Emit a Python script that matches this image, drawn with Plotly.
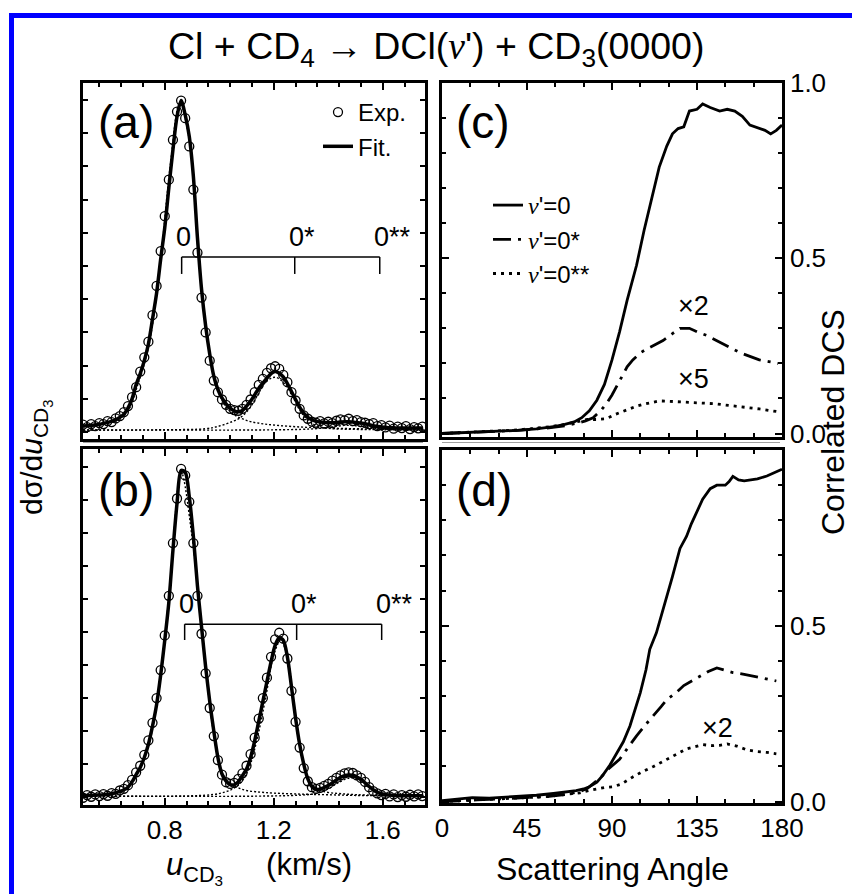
import plotly.graph_objects as go

# ---------------- data: panels (a), (b) ----------------
U = [0.500, 0.515, 0.530, 0.545, 0.560, 0.575, 0.590, 0.605, 0.620, 0.635,
     0.650, 0.665, 0.680, 0.695, 0.710, 0.725, 0.740, 0.755, 0.770, 0.785,
     0.800, 0.815, 0.830, 0.845, 0.860, 0.875, 0.890, 0.905, 0.920, 0.935,
     0.950, 0.965, 0.980, 0.995, 1.010, 1.025, 1.040, 1.055, 1.070, 1.085,
     1.100, 1.115, 1.130, 1.145, 1.160, 1.175, 1.190, 1.205, 1.220, 1.235,
     1.250, 1.265, 1.280, 1.295, 1.310, 1.325, 1.340, 1.355, 1.370, 1.385,
     1.400, 1.415, 1.430, 1.445, 1.460, 1.475, 1.490, 1.505, 1.520, 1.535,
     1.550, 1.565, 1.580, 1.595, 1.610, 1.625, 1.640, 1.655, 1.670, 1.685,
     1.700, 1.715, 1.730, 1.745]

FIT_A = [0.018, 0.019, 0.020, 0.021, 0.023, 0.026, 0.029, 0.032, 0.037, 0.044,
         0.054, 0.072, 0.100, 0.143, 0.176, 0.215, 0.265, 0.340, 0.418, 0.520,
         0.615, 0.735, 0.850, 0.950, 0.998, 0.955, 0.890, 0.770, 0.585, 0.430,
         0.320, 0.235, 0.168, 0.128, 0.103, 0.085, 0.072, 0.064, 0.061, 0.065,
         0.078, 0.093, 0.112, 0.132, 0.147, 0.162, 0.176, 0.182, 0.177, 0.166,
         0.146, 0.122, 0.098, 0.075, 0.057, 0.044, 0.037, 0.032, 0.030, 0.029,
         0.028, 0.028, 0.029, 0.030, 0.031, 0.031, 0.030, 0.029, 0.027, 0.025,
         0.022, 0.019, 0.017, 0.015, 0.014, 0.013, 0.013, 0.012, 0.012, 0.012,
         0.012, 0.012, 0.012, 0.012]

EXP_A = [0.022, 0.015, 0.024, 0.018, 0.027, 0.024, 0.033, 0.030, 0.041, 0.048,
         0.060, 0.078, 0.105, 0.135, 0.182, 0.225, 0.272, 0.352, 0.440, 0.545,
         0.650, 0.760, 0.880, 0.965, 0.998, 0.945, 0.860, 0.730, 0.540, 0.405,
         0.300, 0.215, 0.155, 0.120, 0.098, 0.082, 0.070, 0.066, 0.064, 0.070,
         0.082, 0.098, 0.120, 0.142, 0.160, 0.178, 0.192, 0.198, 0.190, 0.172,
         0.150, 0.120, 0.095, 0.070, 0.050, 0.040, 0.031, 0.028, 0.033, 0.026,
         0.031, 0.027, 0.034, 0.038, 0.035, 0.040, 0.033, 0.036, 0.030, 0.028,
         0.024, 0.027, 0.018, 0.021, 0.014, 0.019, 0.010, 0.016, 0.012, 0.018,
         0.009, 0.015, 0.011, 0.016]

FIT_B = [0.004, 0.005, 0.005, 0.006, 0.006, 0.007, 0.008, 0.010, 0.013, 0.017,
         0.022, 0.030, 0.046, 0.068, 0.090, 0.120, 0.160, 0.215, 0.280, 0.370,
         0.475, 0.590, 0.748, 0.890, 0.990, 0.985, 0.910, 0.790, 0.640, 0.516,
         0.395, 0.290, 0.200, 0.120, 0.070, 0.048, 0.038, 0.037, 0.047, 0.065,
         0.085, 0.120, 0.170, 0.230, 0.290, 0.350, 0.410, 0.460, 0.483, 0.475,
         0.425, 0.334, 0.240, 0.160, 0.100, 0.055, 0.032, 0.023, 0.024, 0.029,
         0.035, 0.043, 0.052, 0.060, 0.065, 0.067, 0.066, 0.061, 0.054, 0.043,
         0.032, 0.022, 0.014, 0.010, 0.008, 0.006, 0.005, 0.004, 0.004, 0.004,
         0.004, 0.004, 0.004, 0.004]

EXP_B = [-0.002, 0.006, 0.001, 0.008, 0.003, 0.009, 0.004, 0.012, 0.010, 0.020,
         0.025, 0.036, 0.052, 0.075, 0.095, 0.128, 0.172, 0.225, 0.300, 0.385,
         0.490, 0.610, 0.770, 0.905, 0.995, 0.975, 0.895, 0.770, 0.610, 0.495,
         0.375, 0.270, 0.185, 0.112, 0.068, 0.045, 0.040, 0.043, 0.055, 0.072,
         0.095, 0.130, 0.180, 0.238, 0.300, 0.362, 0.425, 0.478, 0.498, 0.480,
         0.420, 0.322, 0.228, 0.150, 0.088, 0.048, 0.030, 0.025, 0.028, 0.034,
         0.040, 0.050, 0.058, 0.066, 0.072, 0.075, 0.073, 0.066, 0.058, 0.046,
         0.030, 0.018, 0.011, 0.006, 0.010, 0.002, 0.008, 0.000, 0.006, 0.001,
         0.007, 0.002, 0.008, 0.003]

# fitted components (dotted)
U_A0 = [0.50, 0.60, 0.66, 0.70, 0.74, 0.78, 0.82, 0.855, 0.89, 0.93, 0.97, 1.01, 1.05, 1.10, 1.15, 1.20, 1.30, 1.40, 1.50, 1.60, 1.755]
C_A0 = [0.016, 0.028, 0.058, 0.140, 0.255, 0.480, 0.800, 0.990, 0.880, 0.470, 0.210, 0.095, 0.055, 0.035, 0.026, 0.021, 0.015, 0.012, 0.010, 0.009, 0.008]
U_A1 = [0.50, 0.80, 0.95, 1.00, 1.05, 1.08, 1.11, 1.14, 1.17, 1.205, 1.24, 1.27, 1.30, 1.33, 1.36, 1.40, 1.50, 1.60, 1.755]
C_A1 = [0.006, 0.007, 0.010, 0.018, 0.032, 0.045, 0.070, 0.110, 0.150, 0.165, 0.145, 0.105, 0.060, 0.032, 0.018, 0.011, 0.008, 0.007, 0.006]
U_A2 = [0.50, 1.30, 1.38, 1.42, 1.46, 1.50, 1.54, 1.58, 1.65, 1.755]
C_A2 = [0.006, 0.008, 0.012, 0.016, 0.020, 0.019, 0.014, 0.010, 0.008, 0.006]

U_B0 = [0.50, 0.60, 0.66, 0.70, 0.74, 0.78, 0.82, 0.86, 0.90, 0.94, 0.98, 1.01, 1.04, 1.07, 1.10, 1.15, 1.20, 1.30, 1.40, 1.50, 1.60, 1.75]
C_B0 = [0.004, 0.009, 0.028, 0.075, 0.155, 0.330, 0.650, 0.985, 0.790, 0.470, 0.190, 0.075, 0.042, 0.028, 0.020, 0.015, 0.012, 0.009, 0.007, 0.005, 0.004, 0.003]
U_B1 = [0.50, 0.90, 0.98, 1.02, 1.05, 1.08, 1.11, 1.14, 1.17, 1.20, 1.225, 1.25, 1.28, 1.31, 1.34, 1.38, 1.45, 1.55, 1.75]
C_B1 = [0.003, 0.004, 0.008, 0.015, 0.025, 0.045, 0.090, 0.180, 0.300, 0.430, 0.475, 0.425, 0.240, 0.100, 0.040, 0.018, 0.010, 0.006, 0.003]
U_B2 = [0.50, 1.30, 1.36, 1.40, 1.44, 1.48, 1.52, 1.56, 1.60, 1.66, 1.75]
C_B2 = [0.003, 0.006, 0.012, 0.025, 0.045, 0.058, 0.050, 0.028, 0.010, 0.005, 0.003]

# comb markers (v' = 0, 0*, 0**)
COMB_LABELS = ["0", "0*", "0**"]
COMB_A = [0.862, 1.277, 1.589]
COMB_B = [0.873, 1.284, 1.596]

# ---------------- data: panels (c), (d) ----------------
ANG_C0 = [0, 10, 20, 30, 40, 50, 55, 60, 65, 70, 74, 78, 82, 86, 90, 94, 98, 103, 107, 111, 115, 119, 122, 125, 128, 131, 135, 138, 142, 147, 151, 155, 159, 163, 168, 171, 174, 177, 180]
DCS_C0 = [0.0, 0.002, 0.004, 0.006, 0.009, 0.013, 0.016, 0.020, 0.026, 0.033, 0.045, 0.065, 0.095, 0.140, 0.210, 0.290, 0.380, 0.480, 0.580, 0.670, 0.760, 0.820, 0.855, 0.870, 0.875, 0.920, 0.925, 0.940, 0.930, 0.920, 0.925, 0.920, 0.905, 0.880, 0.870, 0.865, 0.855, 0.865, 0.880]
ANG_C1 = [0, 20, 40, 55, 65, 72, 76, 80, 84, 87, 90, 94, 98, 101, 105, 108, 113, 117, 122, 126, 131, 135, 140, 147, 152, 158, 163, 168, 173, 178]
DCS_C1 = [0.0, 0.004, 0.009, 0.015, 0.022, 0.030, 0.036, 0.045, 0.065, 0.085, 0.110, 0.150, 0.190, 0.210, 0.230, 0.240, 0.253, 0.265, 0.285, 0.300, 0.300, 0.290, 0.280, 0.260, 0.245, 0.230, 0.220, 0.210, 0.205, 0.200]
ANG_C2 = [0, 20, 40, 55, 64, 70, 77, 82, 87, 92, 98, 103, 108, 112, 115, 120, 125, 130, 137, 144, 151, 158, 163, 168, 173, 178]
DCS_C2 = [0.0, 0.005, 0.010, 0.018, 0.025, 0.032, 0.040, 0.040, 0.042, 0.055, 0.068, 0.078, 0.085, 0.090, 0.093, 0.092, 0.090, 0.088, 0.087, 0.085, 0.081, 0.076, 0.073, 0.070, 0.066, 0.062]

ANG_D0 = [0, 8, 16, 25, 38, 50, 59, 66, 71, 75, 78, 82, 85, 89, 92.5, 96, 99.5, 102, 105, 108, 110, 113.5, 116, 119, 122, 126, 129.5, 132, 135, 138, 142, 145.5, 150, 152, 154, 157, 160, 164, 167, 172, 176, 180]
DCS_D0 = [0.003, 0.006, 0.011, 0.010, 0.014, 0.018, 0.023, 0.027, 0.031, 0.036, 0.042, 0.055, 0.074, 0.105, 0.136, 0.170, 0.215, 0.260, 0.310, 0.375, 0.433, 0.480, 0.525, 0.580, 0.640, 0.720, 0.755, 0.790, 0.825, 0.860, 0.890, 0.900, 0.900, 0.910, 0.925, 0.915, 0.912, 0.916, 0.918, 0.926, 0.935, 0.945]
ANG_D1 = [0, 20, 40, 55, 65, 73, 77, 80, 84, 87, 91, 94, 98, 103, 108, 112, 116, 119, 124, 128, 133, 137, 141, 145.5, 150, 154, 160, 165, 171, 177]
DCS_D1 = [0.0, 0.005, 0.009, 0.014, 0.020, 0.028, 0.038, 0.050, 0.068, 0.088, 0.105, 0.120, 0.150, 0.187, 0.220, 0.244, 0.270, 0.290, 0.310, 0.330, 0.345, 0.357, 0.370, 0.380, 0.372, 0.367, 0.362, 0.357, 0.350, 0.343]
ANG_D2 = [0, 20, 40, 55, 65, 73, 78, 82, 86, 90.5, 95, 101, 106, 112, 117, 122, 126, 129.5, 134, 138, 143.5, 147, 151, 156, 161.5, 167, 172, 177]
DCS_D2 = [0.0, 0.005, 0.009, 0.014, 0.020, 0.025, 0.032, 0.037, 0.040, 0.042, 0.050, 0.070, 0.085, 0.100, 0.115, 0.130, 0.140, 0.150, 0.157, 0.162, 0.159, 0.160, 0.164, 0.158, 0.147, 0.142, 0.140, 0.136]

X_TICKS_U = [0.8, 1.2, 1.6]
X_TICKS_ANG = [0, 45, 90, 135, 180]
Y_TICKS_DCS = [0.0, 0.5, 1.0]

# ---------------- figure ----------------
W, H = 852, 894
FONT = "Liberation Sans, Arial, sans-serif"
SERIF_V = "<span style='font-family:Liberation Serif'><i>v</i></span>"

def px_x(p):
    return p / W

def px_y(p):
    return 1 - p / H

fig = go.Figure()

LW_FIT = 3.5
LW_R = 2.8
DASHDOT = "18px,7px,3px,7px"
DOTS = "3px,5px"

def add_left(xa, ya, comps, fit, exp, legend):
    for uu, cc in comps:
        fig.add_trace(go.Scatter(x=uu, y=cc, xaxis=xa, yaxis=ya, mode="lines",
                                 line=dict(color="black", width=1.4, dash="2px,2px", shape="spline"),
                                 showlegend=False, hoverinfo="skip"))
    fig.add_trace(go.Scatter(x=U, y=fit, xaxis=xa, yaxis=ya, mode="lines", name="Fit.",
                             line=dict(color="black", width=LW_FIT, shape="spline", smoothing=0.8),
                             showlegend=legend, legend="legend", legendrank=2, hoverinfo="skip"))
    fig.add_trace(go.Scatter(x=U, y=exp, xaxis=xa, yaxis=ya, mode="markers", name="Exp.",
                             marker=dict(symbol="circle-open", size=9, color="black",
                                         line=dict(width=1.3, color="black")),
                             showlegend=legend, legend="legend", legendrank=1, hoverinfo="skip"))

add_left("x", "y", [(U_A0, C_A0), (U_A1, C_A1), (U_A2, C_A2)], FIT_A, EXP_A, True)
add_left("x2", "y2", [(U_B0, C_B0), (U_B1, C_B1), (U_B2, C_B2)], FIT_B, EXP_B, False)

def add_right(xa, ya, series, legend):
    names = [SERIF_V + "'=0", SERIF_V + "'=0*", SERIF_V + "'=0**"]
    dashes = ["solid", DASHDOT, DOTS]
    for i, (aa, vv) in enumerate(series):
        fig.add_trace(go.Scatter(x=aa, y=vv, xaxis=xa, yaxis=ya, mode="lines", name=names[i],
                                 line=dict(color="black", width=LW_R, dash=dashes[i]),
                                 showlegend=legend, legend="legend2", legendrank=i + 1,
                                 hoverinfo="skip"))

add_right("x3", "y3", [(ANG_C0, DCS_C0), (ANG_C1, DCS_C1), (ANG_C2, DCS_C2)], True)
add_right("x4", "y4", [(ANG_D0, DCS_D0), (ANG_D1, DCS_D1), (ANG_D2, DCS_D2)], False)

# panel geometry (pixels)
A_X = [83, 425]; C_X = [442, 782]
A_Y = [83, 439]; B_Y = [449, 805]; C_Y = [83, 437]; D_Y = [450, 803]

axbase = dict(showline=True, linecolor="black", linewidth=2.5, mirror="allticks",
              ticks="inside", tickcolor="black", tickwidth=2, ticklen=7,
              showgrid=False, zeroline=False, automargin=False,
              tickfont=dict(size=26, color="black", family=FONT))

def xdom(p):
    return [px_x(p[0]), px_x(p[1])]

def ydom(p):
    return [px_y(p[1]), px_y(p[0])]

xl = dict(axbase, range=[0.5, 1.755], tickvals=X_TICKS_U, ticktext=["0.8", "1.2", "1.6"],
          minor=dict(dtick=0.08, tick0=0.4, ticklen=4, tickwidth=1.5, tickcolor="black", ticks="inside"))
yl = dict(axbase, dtick=0.1, tick0=0, ticklen=5, showticklabels=False)
xr = dict(axbase, range=[0, 180], tickvals=X_TICKS_ANG, ticktext=[str(v) for v in X_TICKS_ANG],
          minor=dict(dtick=15, tick0=0, ticklen=4, tickwidth=1.5, tickcolor="black", ticks="inside"))
yr = dict(axbase, side="right", tickvals=Y_TICKS_DCS, ticktext=["0.0", "0.5", "1.0"],
          minor=dict(dtick=0.1, tick0=0, ticklen=4, tickwidth=1.5, tickcolor="black", ticks="inside"))

fig.update_layout(
    xaxis=dict(xl, domain=xdom(A_X), anchor="y", showticklabels=False),
    yaxis=dict(yl, domain=ydom(A_Y), anchor="x", range=[-0.021, 1.051]),
    xaxis2=dict(xl, domain=xdom(A_X), anchor="y2"),
    yaxis2=dict(yl, domain=ydom(B_Y), anchor="x2", range=[-0.024, 1.055]),
    xaxis3=dict(xr, domain=xdom(C_X), anchor="y3", showticklabels=False),
    yaxis3=dict(yr, domain=ydom(C_Y), anchor="x3", range=[-0.01, 1.0]),
    xaxis4=dict(xr, domain=xdom(C_X), anchor="y4"),
    yaxis4=dict(yr, domain=ydom(D_Y), anchor="x4", range=[-0.004, 1.0],
                tickvals=Y_TICKS_DCS[:2], ticktext=["0.0", "0.5"]),
)

annotations = []
shapes = []

def txt(text, x, y, size, xref="paper", yref="paper", xanchor="center", yanchor="middle", angle=0):
    annotations.append(dict(text=text, x=x, y=y, xref=xref, yref=yref, xanchor=xanchor,
                            yanchor=yanchor, textangle=angle, showarrow=False,
                            font=dict(size=size, color="black", family=FONT)))

# title
txt("Cl + CD<sub>4</sub> \u2192 DCl(" + SERIF_V + "') + CD<sub>3</sub>(0000)", px_x(436), px_y(49), 37.5)
# panel labels
for lab, cx, cy in [("(a)", 126, 122), ("(b)", 126, 490), ("(c)", 483, 122), ("(d)", 484, 490)]:
    txt(lab, px_x(cx), px_y(cy), 46)

# combs
for xa, ya, pos, yline, ytick in [("x", "y", COMB_A, 0.527, 0.476), ("x2", "y2", COMB_B, 0.524, 0.476)]:
    shapes.append(dict(type="line", xref=xa, yref=ya, x0=pos[0], x1=pos[-1], y0=yline, y1=yline,
                       line=dict(color="black", width=1.5)))
    for p, lab in zip(pos, COMB_LABELS):
        shapes.append(dict(type="line", xref=xa, yref=ya, x0=p, x1=p, y0=ytick, y1=yline,
                           line=dict(color="black", width=1.5)))
        txt(lab, p - 0.028, yline + 0.01, 27, xref=xa, yref=ya, xanchor="left", yanchor="bottom")

# multipliers
for t, xa, ya, xx, yy in [("\u00d72", "x3", "y3", 133, 0.365), ("\u00d75", "x3", "y3", 133, 0.155),
                          ("\u00d72", "x4", "y4", 146, 0.21)]:
    txt(t, xx, yy, 27, xref=xa, yref=ya)

# axis titles
txt("d\u03c3/d<i>u</i><sub>CD<sub>3</sub></sub>", px_x(36), px_y(458), 30, angle=-90)
txt("<i>u</i><sub>CD<sub>3</sub></sub>     (km/s)", px_x(259), px_y(868), 31)
txt("Scattering Angle", px_x(612), px_y(869), 32)
txt("Correlated DCS", px_x(833), px_y(422), 32, angle=-90)

# blue frame and gray separators
shapes.append(dict(type="line", xref="paper", yref="paper", x0=px_x(9), x1=1.0,
                   y0=px_y(15.5), y1=px_y(15.5), line=dict(color="#0000ff", width=5)))
shapes.append(dict(type="line", xref="paper", yref="paper", x0=px_x(11.5), x1=px_x(11.5),
                   y0=0, y1=px_y(13), line=dict(color="#0000ff", width=5)))
for xs in (A_X, C_X):
    shapes.append(dict(type="line", xref="paper", yref="paper", x0=px_x(xs[0]), x1=px_x(xs[1] - 2),
                       y0=px_y(442.5), y1=px_y(442.5), line=dict(color="#a0a0a0", width=1)))

fig.update_layout(
    width=W, height=H, margin=dict(l=0, r=0, t=0, b=0, pad=0, autoexpand=False),
    paper_bgcolor="white", plot_bgcolor="white",
    font=dict(family=FONT, color="black"),
    annotations=annotations, shapes=shapes, hovermode=False,
    legend=dict(x=px_x(318), y=px_y(90), xanchor="left", yanchor="top",
                bgcolor="rgba(0,0,0,0)", font=dict(size=24, color="black", family=FONT),
                tracegroupgap=0, itemwidth=30),
    legend2=dict(x=px_x(488), y=px_y(183), xanchor="left", yanchor="top",
                 bgcolor="rgba(0,0,0,0)", font=dict(size=24, color="black", family=FONT),
                 tracegroupgap=0, itemwidth=30),
)

fig.write_html("out.html", config={"displayModeBar": False},
               post_script="document.body.style.margin='0';document.body.style.overflow='hidden';")
